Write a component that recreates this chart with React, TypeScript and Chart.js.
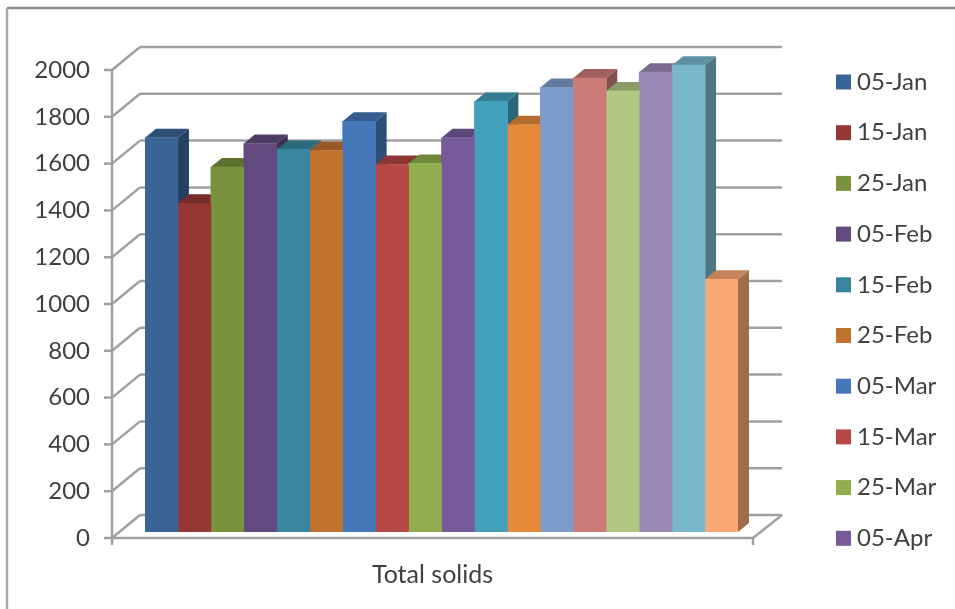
import React, { useEffect, useRef } from "react";
import { Chart, registerables } from "chart.js";

Chart.register(...registerables);

const category = ["Total solids"];
const sampleDates = [
  "05-Jan", "15-Jan", "25-Jan", "05-Feb", "15-Feb", "25-Feb",
  "05-Mar", "15-Mar", "25-Mar", "05-Apr", "15-Apr", "25-Apr",
  "05-May", "15-May", "25-May", "05-Jun", "15-Jun", "25-Jun",
];
const totalSolids = [
  1685, 1405, 1560, 1660, 1635, 1630, 1755, 1570, 1575,
  1685, 1840, 1740, 1900, 1940, 1885, 1965, 1995, 1080,
];
const barColors = [
  "#3A6496", "#953735", "#7A923D", "#634A7E", "#37869E", "#C0722F",
  "#4677B8", "#B54744", "#90AE4E", "#775A9A", "#42A0BB", "#E68A3A",
  "#7D9CCB", "#CC7B79", "#B2C781", "#9C88B4", "#7AB8CE", "#FAA972",
];
const legendCount = 10;

const FONT = "Lato";
const TEXT = "#404040";
const RULE = "#a0a0a0";

// Oblique projection of the box: the bars sit between the front and back planes.
const DEPTH_X = 11;
const DEPTH_Y = 9;
const FRONT_DX = -33;
const FRONT_DY = 6;
const BACK_DX = -5;
const BACK_DY = -17;
const BACK_RIGHT = 782;
const FRONT_RIGHT = 753;

function shade(hex: string, k: number) {
  const n = parseInt(hex.slice(1), 16);
  const c = (v: number) => Math.round(v * k);
  return `rgb(${c((n >> 16) & 255)},${c((n >> 8) & 255)},${c(n & 255)})`;
}

function poly(ctx: CanvasRenderingContext2D, pts: number[][], fill: string) {
  ctx.beginPath();
  pts.forEach(([x, y], i) => (i ? ctx.lineTo(x, y) : ctx.moveTo(x, y)));
  ctx.closePath();
  ctx.fillStyle = fill;
  ctx.fill();
}

function segment(ctx: CanvasRenderingContext2D, x0: number, y0: number, x1: number, y1: number) {
  ctx.beginPath();
  ctx.moveTo(x0, y0);
  ctx.lineTo(x1, y1);
  ctx.stroke();
}

const boxPlugin = {
  id: "box3d",
  beforeDraw(chart: any) {
    const { ctx } = chart;
    ctx.save();
    ctx.fillStyle = "#ffffff";
    ctx.fillRect(0, 0, chart.width, chart.height);
    ctx.strokeStyle = "#8c8c8c";
    ctx.lineWidth = 2.5;
    segment(ctx, 7, 8, chart.width, 8);
    ctx.strokeStyle = "#a8a8a8";
    segment(ctx, 7, 8, 7, chart.height);
    ctx.restore();
  },
  beforeDatasetsDraw(chart: any) {
    const { ctx, scales } = chart;
    const yScale = scales.y;
    const left = scales.x.left;
    ctx.save();
    ctx.strokeStyle = RULE;
    ctx.lineWidth = 2.5;
    ctx.lineCap = "butt";

    yScale.ticks.forEach((t: any) => {
      const py = yScale.getPixelForValue(t.value);
      const fy = py + FRONT_DY;
      const by = py + BACK_DY;
      segment(ctx, left + FRONT_DX - 8, fy, left + FRONT_DX, fy);
      segment(ctx, left + FRONT_DX, fy, left + BACK_DX, by);
      segment(ctx, left + BACK_DX, by, BACK_RIGHT, by);
    });

    const zero = yScale.getPixelForValue(0);
    const top = yScale.getPixelForValue(yScale.max);
    segment(ctx, left + FRONT_DX, top + FRONT_DY, left + FRONT_DX, zero + FRONT_DY + 7);
    segment(ctx, left + FRONT_DX, zero + FRONT_DY, FRONT_RIGHT, zero + FRONT_DY);
    segment(ctx, FRONT_RIGHT, zero + FRONT_DY, FRONT_RIGHT, zero + FRONT_DY + 7);
    segment(ctx, FRONT_RIGHT, zero + FRONT_DY, BACK_RIGHT, zero + BACK_DY);

    // Side and top faces go down left to right, the front faces cover them afterwards.
    chart.data.datasets.forEach((ds: any, i: number) => {
      const bar = chart.getDatasetMeta(i).data[0];
      const { x, y, base, width } = bar.getProps(["x", "y", "base", "width"], true);
      const l = x - width / 2;
      const r = x + width / 2;
      const color = ds.backgroundColor;
      poly(ctx, [[r, y], [r + DEPTH_X, y - DEPTH_Y], [r + DEPTH_X, base - DEPTH_Y], [r, base]], shade(color, 0.64));
      poly(ctx, [[l, y], [r, y], [r + DEPTH_X, y - DEPTH_Y], [l + DEPTH_X, y - DEPTH_Y]], shade(color, 0.78));
    });
    ctx.restore();
  },
  afterDraw(chart: any) {
    // Key on the right, listing the first sample dates.
    const { ctx } = chart;
    ctx.save();
    ctx.font = `24px ${FONT}`;
    ctx.textBaseline = "middle";
    ctx.textAlign = "left";
    chart.data.datasets.slice(0, legendCount).forEach((ds: any, i: number) => {
      const cy = 82 + i * 50.7;
      ctx.fillStyle = ds.backgroundColor;
      ctx.fillRect(836, cy - 7.5, 15, 15);
      ctx.fillStyle = TEXT;
      ctx.fillText(ds.label, 857, cy);
    });
    ctx.restore();
  },
};

export default function App() {
  const ref = useRef<HTMLCanvasElement>(null);
  useEffect(() => {
    const chart = new Chart(ref.current!, {
      type: "bar",
      data: {
        labels: category,
        datasets: sampleDates.map((label, i) => ({
          label,
          data: [totalSolids[i]],
          backgroundColor: barColors[i],
          borderWidth: 0,
          categoryPercentage: 1,
          barPercentage: 1,
        })),
      },
      options: {
        responsive: false,
        animation: false,
        layout: { padding: { left: 0, right: 217, top: 64, bottom: 0 } },
        plugins: { legend: { display: false }, tooltip: { enabled: false } },
        scales: {
          x: {
            grid: { display: false, drawTicks: false },
            border: { display: false },
            ticks: {
              color: TEXT,
              font: { family: FONT, size: 25 },
              padding: 28,
              labelOffset: -9,
              maxRotation: 0,
              autoSkip: false,
            },
            afterFit: (s: any) => { s.height = 77; },
          },
          y: {
            min: 0,
            max: 2000,
            grid: { display: false, drawTicks: false },
            border: { display: false },
            ticks: {
              stepSize: 200,
              color: TEXT,
              font: { family: FONT, size: 24 },
              padding: 55,
              labelOffset: 6,
              callback: (v: any) => String(v),
            },
            afterFit: (s: any) => {
              s.width = 145;
              s.paddingTop = 0;
              s.paddingBottom = 0;
            },
          },
        },
      },
      plugins: [boxPlugin],
    });
    return () => chart.destroy();
  }, []);
  return (
    <div style={{ position: "fixed", left: 0, top: 0, width: 955, height: 609 }}>
      <canvas ref={ref} width={955} height={609} style={{ display: "block" }} />
    </div>
  );
}
